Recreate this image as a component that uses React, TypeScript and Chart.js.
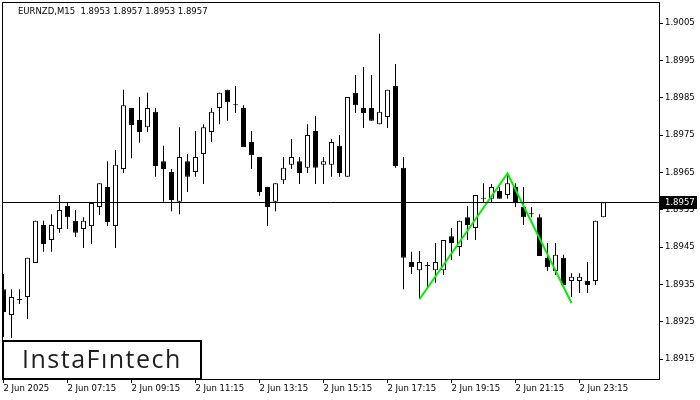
import React, { useEffect, useRef } from "react";
import { Chart, registerables } from "chart.js";

Chart.register(...registerables);

const opens = [
  1.89337, 1.89268, 1.89308, 1.89316, 1.89407, 1.89509, 1.89469, 1.89498, 1.8956, 1.8952,
  1.89498, 1.89506, 1.89557, 1.89611, 1.89506, 1.89659, 1.89822, 1.8979, 1.89771, 1.89812,
  1.8968, 1.89651, 1.89571, 1.8968, 1.89651, 1.89699, 1.89758, 1.89822, 1.89871, 1.8983,
  1.89822, 1.89731, 1.89691, 1.89611, 1.89571, 1.89629, 1.8967, 1.8968, 1.89662, 1.89761,
  1.8967, 1.8967, 1.89721, 1.89638, 1.89863, 1.89822, 1.89822, 1.89779, 1.89798, 1.89881,
  1.89662, 1.8941, 1.89388, 1.89399, 1.89388, 1.89388, 1.89479, 1.8945, 1.8953, 1.89501,
  1.89579, 1.89579, 1.896, 1.89589, 1.89611, 1.89557, 1.89538, 1.8953, 1.89421, 1.89386,
  1.89421, 1.89359, 1.89359, 1.89359, 1.89359, 1.8953,
];
const highs = [
  1.89378, 1.89337, 1.89337, 1.89421, 1.8952, 1.8952, 1.89538, 1.89589, 1.89568, 1.89549,
  1.8953, 1.89568, 1.89621, 1.8968, 1.8971, 1.89871, 1.89822, 1.89852, 1.89863, 1.89822,
  1.89721, 1.89659, 1.89771, 1.89699, 1.89761, 1.89779, 1.89822, 1.89863, 1.89871, 1.89881,
  1.8983, 1.89761, 1.89691, 1.89611, 1.89621, 1.89691, 1.89739, 1.89691, 1.89779, 1.89801,
  1.89691, 1.89739, 1.8975, 1.89852, 1.89911, 1.89932, 1.89911, 1.90021, 1.89871, 1.8994,
  1.89691, 1.89437, 1.89439, 1.8941, 1.89461, 1.89469, 1.89501, 1.8952, 1.8956, 1.89589,
  1.89621, 1.89619, 1.89611, 1.89648, 1.89621, 1.89611, 1.89557, 1.89538, 1.89461, 1.89461,
  1.89429, 1.8938, 1.8938, 1.8941, 1.8952, 1.8957,
];
const lows = [
  1.89209, 1.89206, 1.89297, 1.89257, 1.89407, 1.89437, 1.89437, 1.89488, 1.89498, 1.89477,
  1.89447, 1.89458, 1.89536, 1.89506, 1.89447, 1.89648, 1.89688, 1.89729, 1.89758, 1.89638,
  1.89571, 1.89546, 1.89538, 1.89597, 1.89638, 1.89619, 1.89731, 1.89779, 1.89788, 1.89809,
  1.89718, 1.89659, 1.89587, 1.89506, 1.89546, 1.89619, 1.89659, 1.89619, 1.89648, 1.89619,
  1.89619, 1.89638, 1.89638, 1.89638, 1.89809, 1.89769, 1.89788, 1.89779, 1.89769, 1.89662,
  1.89337, 1.89378, 1.89311, 1.89343, 1.89354, 1.89375, 1.89415, 1.89426, 1.89469, 1.89469,
  1.89568, 1.89568, 1.89579, 1.89579, 1.89557, 1.89509, 1.8953, 1.89426, 1.89386, 1.89375,
  1.89348, 1.89316, 1.89327, 1.89327, 1.89348, 1.8953,
];
const closes = [
  1.89276, 1.89316, 1.89308, 1.89421, 1.8952, 1.89458, 1.89509, 1.89549, 1.8953, 1.89488,
  1.8952, 1.89568, 1.89621, 1.89517, 1.8967, 1.8983, 1.89777, 1.89758, 1.89822, 1.89667,
  1.89659, 1.89576, 1.89691, 1.89638, 1.89691, 1.89771, 1.89812, 1.89863, 1.89838, 1.8983,
  1.89718, 1.89696, 1.89597, 1.89557, 1.89621, 1.89662, 1.89691, 1.89648, 1.8975, 1.89662,
  1.8968, 1.89731, 1.89648, 1.89852, 1.8983, 1.89809, 1.89788, 1.89812, 1.89871, 1.89667,
  1.89421, 1.89396, 1.8941, 1.89399, 1.8941, 1.89469, 1.89461, 1.8952, 1.89509, 1.89589,
  1.89579, 1.89611, 1.89579, 1.89621, 1.89568, 1.8953, 1.89538, 1.89426, 1.89396, 1.89429,
  1.89348, 1.8937, 1.8937, 1.89348, 1.8952, 1.8957,
];

const xTickIndex = [0, 8, 16, 24, 32, 40, 48, 56, 64, 72];
const xTickLabels = [
  "2 Jun 2025", "2 Jun 07:15", "2 Jun 09:15", "2 Jun 11:15", "2 Jun 13:15",
  "2 Jun 15:15", "2 Jun 17:15", "2 Jun 19:15", "2 Jun 21:15", "2 Jun 23:15",
];
const yTickValues = [1.8915, 1.8925, 1.8935, 1.8945, 1.8955, 1.8965, 1.8975, 1.8985, 1.8995, 1.9005];

const patternIndex = [52, 63, 71];
const patternPrice = [1.8931, 1.89647, 1.893];

const currentPrice = 1.8957;
const titleText = "EURNZD,M15  1.8953 1.8957 1.8953 1.8957";
const logoText = "InstaFıntech";

const AXIS_FONT = "DejaVu Sans";

export default function App() {
  const ref = useRef<HTMLCanvasElement | null>(null);

  useEffect(() => {
    document.body.style.margin = "0";
    const canvas = ref.current;
    if (!canvas) return;

    const wickData = highs.map((h, i) => ({ x: i, y: [lows[i], h] }));
    const bodyData = opens.map((o, i) => ({ x: i, y: [o, closes[i]] }));
    const bodyColors = opens.map((o, i) => (closes[i] > o ? "#ffffff" : "#000000"));
    const patternData = patternIndex.map((x, i) => ({ x, y: patternPrice[i] }));

    const mtPlugin = {
      id: "mtDecor",
      afterDatasetsDraw(chart: any) {
        const { ctx, chartArea: a, scales } = chart;
        ctx.save();
        const py = Math.round(scales.y.getPixelForValue(currentPrice)) + 0.5;
        ctx.strokeStyle = "#000";
        ctx.lineWidth = 1;
        ctx.beginPath();
        ctx.moveTo(a.left, py);
        ctx.lineTo(a.right, py);
        ctx.stroke();
        ctx.fillStyle = "#000";
        ctx.fillRect(a.left, a.top, a.right - a.left, 1);
        ctx.fillRect(a.left, a.top, 1, a.bottom - a.top);
        ctx.font = `8.5px "${AXIS_FONT}"`;
        ctx.textBaseline = "middle";
        ctx.textAlign = "left";
        ctx.fillText(titleText, 18, 12);
        ctx.fillStyle = "#ffffff";
        ctx.fillRect(3, 341, 198, 38);
        ctx.lineWidth = 2;
        ctx.strokeStyle = "#000";
        ctx.strokeRect(3, 341, 198, 38);
        ctx.fillStyle = "#1e1e1e";
        ctx.font = `500 25px "Open Sans"`;
        try {
          (ctx as any).letterSpacing = "1.5px";
        } catch (e) {}
        ctx.textBaseline = "alphabetic";
        ctx.fillText(logoText, 22, 368);
        ctx.restore();
      },
      afterDraw(chart: any) {
        const { ctx, chartArea: a, scales } = chart;
        const py = Math.round(scales.y.getPixelForValue(currentPrice));
        ctx.save();
        ctx.fillStyle = "#000";
        ctx.fillRect(a.right + 1, py - 6, 37, 13);
        ctx.fillStyle = "#fff";
        ctx.font = `8.5px "${AXIS_FONT}"`;
        ctx.textBaseline = "middle";
        ctx.textAlign = "left";
        ctx.fillText(currentPrice.toFixed(4), a.right + 6, py + 0.5);
        ctx.restore();
      },
    };

    const chart = new Chart(canvas, {
      type: "bar",
      data: {
        datasets: [
          {
            type: "line",
            data: patternData,
            borderColor: "#00ee00",
            borderWidth: 2,
            pointRadius: 0,
            fill: false,
            tension: 0,
            order: 0,
          } as any,
          {
            data: bodyData,
            backgroundColor: bodyColors,
            borderColor: "#000000",
            borderWidth: 1,
            borderSkipped: false,
            barThickness: 5,
            minBarLength: 1,
            grouped: false,
            inflateAmount: 0,
            order: 1,
          } as any,
          {
            data: wickData,
            backgroundColor: "#000000",
            borderWidth: 0,
            barThickness: 1,
            grouped: false,
            inflateAmount: 0,
            order: 2,
          } as any,
        ],
      },
      options: {
        animation: false,
        responsive: false,
        events: [],
        layout: { padding: { top: 2, left: 2, right: 0, bottom: 0 } },
        plugins: { legend: { display: false }, tooltip: { enabled: false } },
        scales: {
          x: {
            type: "linear",
            offset: false,
            min: -0.1875,
            max: 81.9375,
            afterBuildTicks: (scale: any) => {
              scale.ticks = xTickIndex.map((v) => ({ value: v }));
            },
            afterFit: (scale: any) => {
              scale.height = 21;
              scale.paddingLeft = 0;
              scale.paddingRight = 0;
            },
            grid: {
              display: true,
              offset: false,
              drawOnChartArea: false,
              drawTicks: true,
              tickLength: 4,
              color: "#000",
            },
            border: { display: true, color: "#000", width: 1 },
            ticks: {
              autoSkip: false,
              maxRotation: 0,
              minRotation: 0,
              align: "start",
              padding: 1,
              color: "#000",
              font: { family: AXIS_FONT, size: 8.5 },
              callback: (v: any) => {
                const k = xTickIndex.indexOf(Number(v));
                return k >= 0 ? xTickLabels[k] : "";
              },
            },
          },
          y: {
            type: "linear",
            position: "right",
            min: 1.8909643,
            max: 1.9010625,
            afterBuildTicks: (scale: any) => {
              scale.ticks = yTickValues.map((v) => ({ value: v }));
            },
            afterFit: (scale: any) => {
              scale.width = 41;
              scale.paddingTop = 0;
              scale.paddingBottom = 0;
            },
            grid: {
              display: true,
              drawOnChartArea: false,
              drawTicks: true,
              tickLength: 4,
              color: "#000",
            },
            border: { display: true, color: "#000", width: 1 },
            ticks: {
              padding: 2,
              color: "#000",
              font: { family: AXIS_FONT, size: 8.5 },
              callback: (v: any) => Number(v).toFixed(4),
            },
          },
        },
      },
      plugins: [mtPlugin],
    } as any);

    return () => chart.destroy();
  }, []);

  return (
    <div style={{ position: "absolute", left: 0, top: 0, width: 700, height: 400, background: "#fff" }}>
      <canvas ref={ref} width={700} height={400} style={{ width: 700, height: 400, display: "block" }} />
    </div>
  );
}
